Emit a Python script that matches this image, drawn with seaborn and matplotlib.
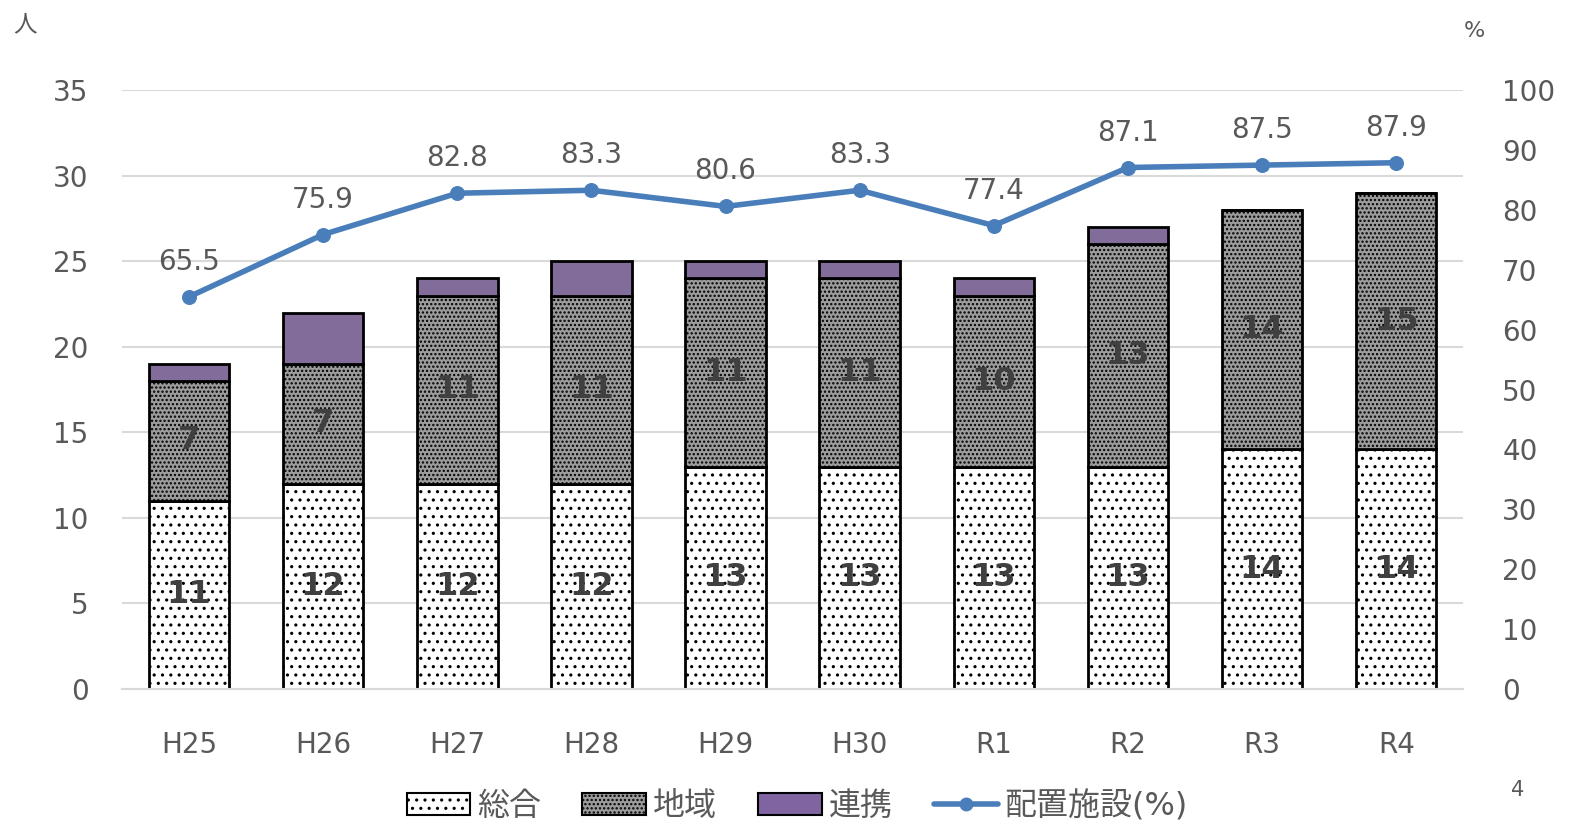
import numpy as np
import seaborn as sns
import matplotlib.pyplot as plt
from matplotlib.patches import Patch
from matplotlib.lines import Line2D

years = ['H25', 'H26', 'H27', 'H28', 'H29', 'H30', 'R1', 'R2', 'R3', 'R4']
sogo = [11, 12, 12, 12, 13, 13, 13, 13, 14, 14]      # 総合
chiiki = [7, 7, 11, 11, 11, 11, 10, 13, 14, 15]      # 地域
renkei = [1, 3, 1, 2, 1, 1, 1, 1, 0, 0]              # 連携
haichi = [65.5, 75.9, 82.8, 83.3, 80.6, 83.3, 77.4, 87.1, 87.5, 87.9]  # 配置施設(%)

sns.set_style('white')
plt.rcParams['font.family'] = ['DejaVu Sans', 'Noto Sans CJK JP']
plt.rcParams['hatch.linewidth'] = 1.1

gray = '#595959'
purple = '#8064A2'
blue = '#4A7EBB'
dense = '#9c9c9c'

fig = plt.figure(figsize=(15.94, 8.36), dpi=100)
ax = fig.add_axes([0.0765, 0.176, 0.8415, 0.716])

bottom2 = np.array(sogo) + np.array(chiiki)
sns.barplot(x=years, y=sogo, color='white', edgecolor='black', linewidth=2,
            hatch='..', width=0.6, ax=ax)
sns.barplot(x=years, y=chiiki, bottom=sogo, color=dense, edgecolor='black',
            linewidth=2, hatch='....', width=0.6, ax=ax)
sns.barplot(x=years, y=renkei, bottom=bottom2, color=purple, edgecolor='black',
            linewidth=2, width=0.6, ax=ax)

# 棒グラフの数値
for i in range(len(years)):
    ax.text(i, sogo[i] / 2, str(sogo[i]), ha='center', va='center',
            fontsize=23, fontweight='bold', color='#404040')
    ax.text(i, sogo[i] + chiiki[i] / 2, str(chiiki[i]), ha='center', va='center',
            fontsize=23, fontweight='bold', color='#404040')

ax.set_ylim(0, 35)
ax.set_yticks(range(0, 36, 5))
ax.set_xlim(-0.5, len(years) - 0.5)
ax.yaxis.grid(True, color='#d9d9d9', linewidth=1.5)
ax.set_axisbelow(True)
for s in ['top', 'right', 'left']:
    ax.spines[s].set_visible(False)
ax.spines['bottom'].set_color('#d9d9d9')
ax.spines['bottom'].set_linewidth(1.5)
ax.tick_params(axis='both', length=0, labelsize=20, colors=gray)
ax.tick_params(axis='x', pad=30)
ax.tick_params(axis='y', pad=24)
ax.set_xlabel('')

ax2 = ax.twinx()
sns.lineplot(x=np.arange(len(years)), y=haichi, color=blue, linewidth=4,
             marker='o', markersize=10, markeredgecolor=blue, ax=ax2)
for i, v in enumerate(haichi):
    ax2.text(i, v + 3.5, f'{v:.1f}', ha='center', va='bottom', fontsize=20, color=gray)
ax2.set_ylim(0, 100)
ax2.set_yticks(range(0, 101, 10))
ax2.set_xlim(-0.5, len(years) - 0.5)
for s in ['top', 'right', 'left', 'bottom']:
    ax2.spines[s].set_visible(False)
ax2.tick_params(axis='y', length=0, labelsize=20, colors=gray, pad=28)
ax2.grid(False)

fig.text(0.008, 0.985, '人', fontsize=17, color=gray, ha='left', va='top')
fig.text(0.925, 0.975, '%', fontsize=16, color=gray, ha='center', va='top')
fig.text(0.952, 0.055, '4', fontsize=15, color=gray, ha='center', va='center')

handles = [
    Patch(facecolor='white', edgecolor='black', hatch='..', linewidth=1.5),
    Patch(facecolor=dense, edgecolor='black', hatch='....', linewidth=1.5),
    Patch(facecolor=purple, edgecolor='black', linewidth=1.5),
    Line2D([0], [0], color=blue, linewidth=4, marker='o', markersize=9),
]
fig.legend(handles, ['総合', '地域', '連携', '配置施設(%)'], loc='center',
           bbox_to_anchor=(0.5, 0.035), ncol=4, frameon=False, fontsize=23,
           labelcolor=gray, handlelength=2.0, handleheight=0.7,
           handletextpad=0.2, columnspacing=1.3)

fig.savefig('out.png', dpi=100)
